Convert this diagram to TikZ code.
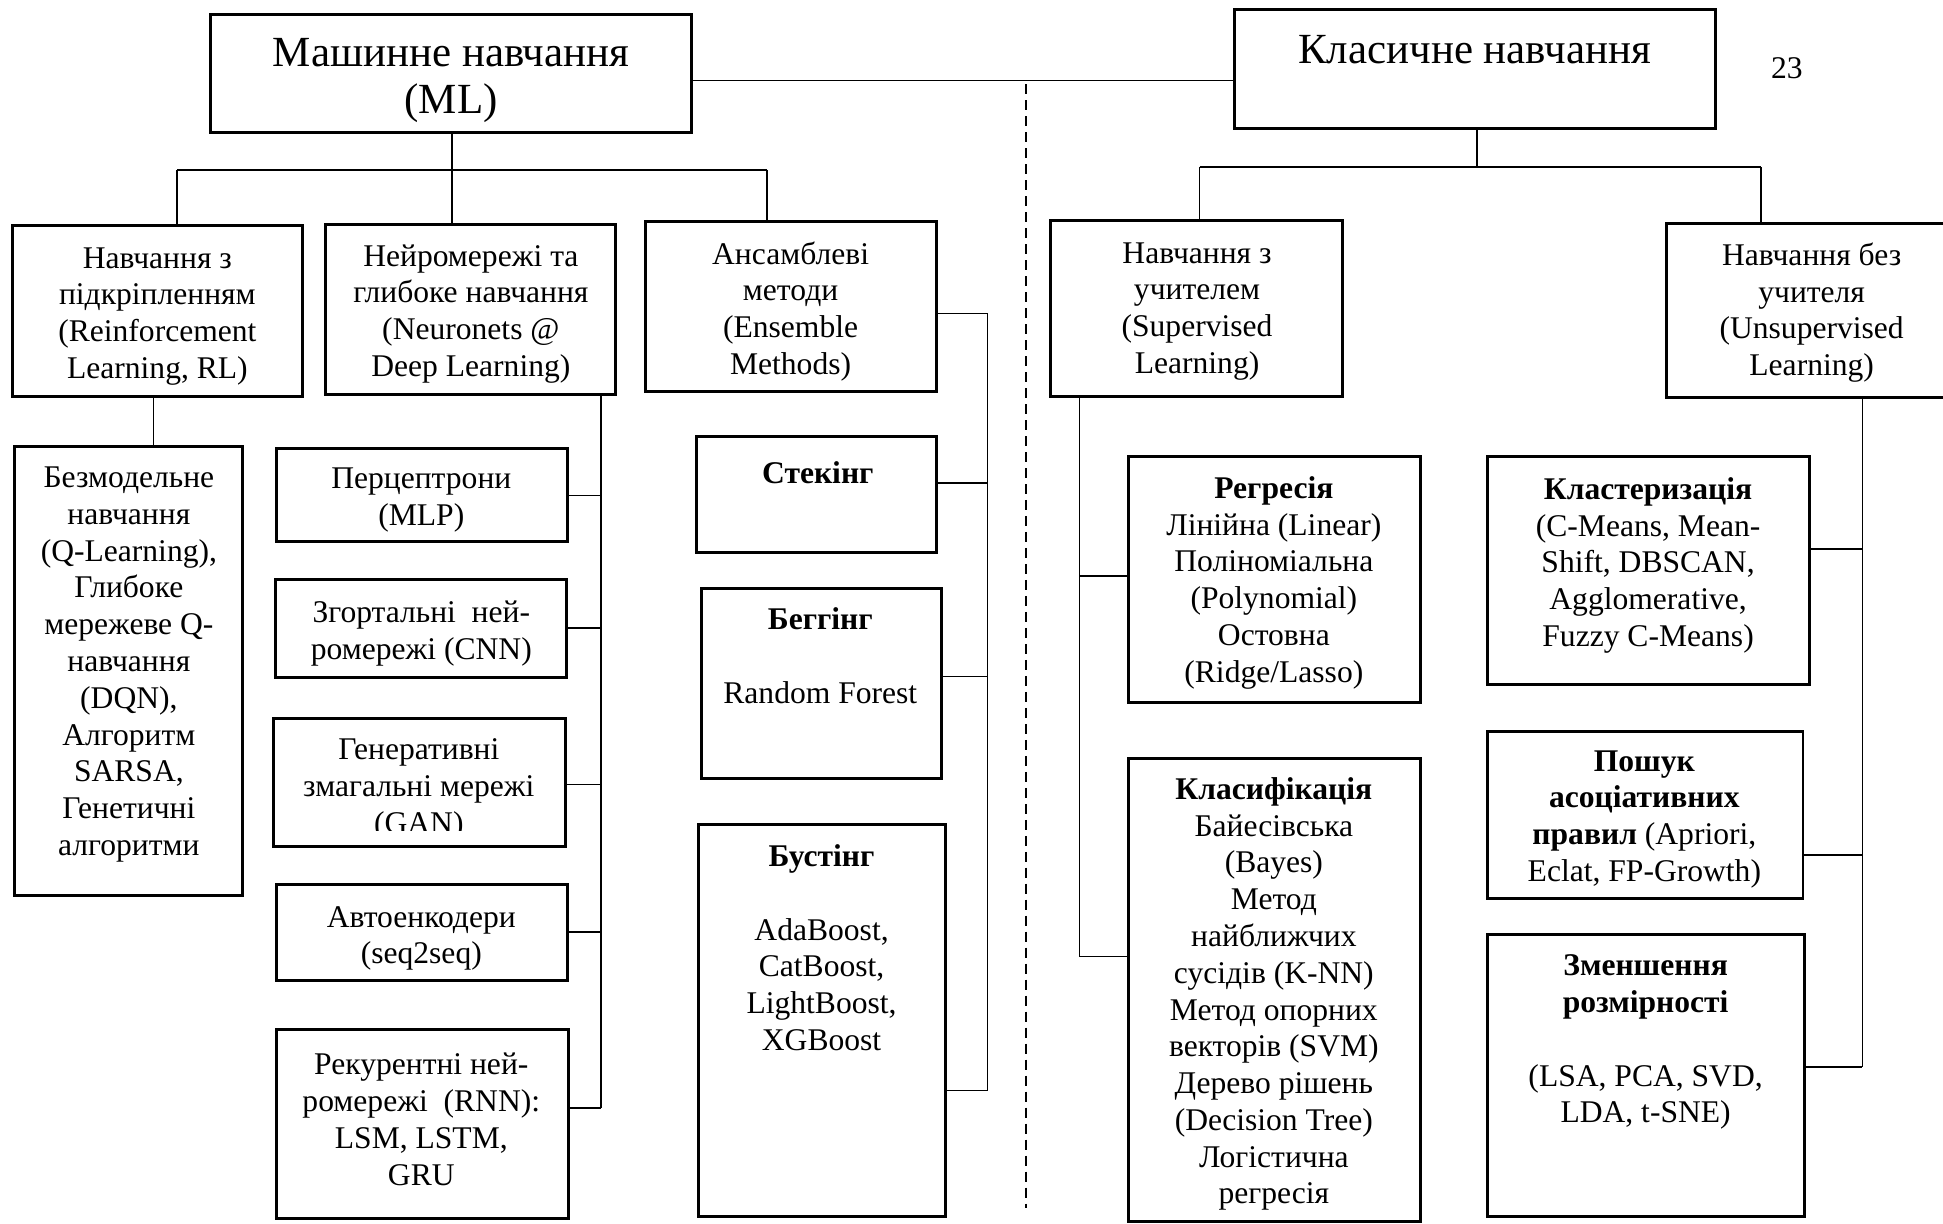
\documentclass[tikz,border=0pt]{standalone}
\usepackage{fontspec}
\setmainfont{Liberation Serif}
\usetikzlibrary{fit}
\tikzset{
  box/.style={draw,line width=1.5pt,inner sep=0pt},
  link/.style={line width=0.8pt},
  sep/.style={line width=0.7pt,dash pattern=on 5pt off 3pt},
  txt/.style={align=center,inner sep=0pt,yshift=-2pt,font=\fontsize{15.8}{18.4}\selectfont},
  ttl/.style={align=center,inner sep=0pt,font=\fontsize{21.5}{23.6}\selectfont}
}
\begin{document}
\begin{tikzpicture}[x=0.62pt,y=-0.62pt]
\useasboundingbox (0,0) rectangle (1568,987);
% top level
\node[box,fit={(170,12) (558,107)}] (ml) {};
\node[box,fit={(996,8) (1384,104)}] (cl) {};
\node[ttl] (mltxt) at (364,65) {Машинне навчання\\(ML)};
\node[ttl] (cltxt) at (1190,40) {Класичне навчання};
\node[txt] (page) at (1442,52) {23};
\draw[link] (ml.east |- 0,65) -- (cl.west |- 0,65);
\coordinate (dtop) at (828,68); \coordinate (dbot) at (828,975);
\draw[sep] (dtop) -- (dbot);
% ML branches
\node[box,fit={(10,182) (244,320)}] (rl) {};
\node[box,fit={(263,181) (497,318)}] (nn) {};
\node[box,fit={(521,179) (756,316)}] (en) {};
\node[txt] (rltxt) at (127,252) {Навчання з\\підкріпленням\\(Reinforcement\\Learning, RL)};
\node[txt] (nntxt) at (380,250) {Нейромережі та\\глибоке навчання\\(Neuronets @\\Deep Learning)};
\node[txt] (entxt) at (638,248) {Ансамблеві\\методи\\(Ensemble\\Methods)};
\coordinate (mlj) at (365,137); \coordinate (rlj) at (143,137); \coordinate (enj) at (619,137);
\draw[link] (ml.south -| mlj) -- (mlj);
\draw[link] (rlj) -- (enj);
\foreach \j/\b in {rlj/rl,mlj/nn,enj/en}{\draw[link] (\j) -- (\j |- \b.north);}
% reinforcement learning
\node[box,fit={(12,360) (196,723)}] (mf) {};
\node[txt] (mftxt) at (104,533) {Безмодельне\\навчання\\(Q-Learning),\\Глибоке\\мережеве Q-\\навчання\\(DQN),\\Алгоритм\\SARSA,\\Генетичні\\алгоритми};
\coordinate (rlq) at (124,340);
\draw[link] (rlq |- rl.south) -- (rlq |- mf.north);
% neural networks
\node[box,fit={(223,362) (458,437)}] (mlp) {};
\node[box,fit={(222,468) (457,547)}] (cnn) {};
\node[box,fit={(221,580) (456,683)}] (gan) {};
\node[box,fit={(223,714) (458,791)}] (ae) {};
\node[box,fit={(223,831) (459,983)}] (rnn) {};
\node[txt] (mlptxt) at (340,400) {Перцептрони\\(MLP)};
\node[txt] (cnntxt) at (340,508) {Згортальні\ \ ней-\\ромережі (CNN)};
\begin{scope}
\clip (222,582) rectangle (455,670);
\node[txt] (gantxt) at (338,634) {Генеративні\\змагальні мережі\\(GAN)};
\end{scope}
\node[txt] (aetxt) at (340,754) {Автоенкодери\\(seq2seq)};
\node[txt] (rnntxt) at (340,900) {Рекурентні ней-\\ромережі\ \ (RNN):\\LSM, LSTM,\\GRU};
\coordinate (nnb) at (485,894);
\draw[link] (nnb |- nn.south) -- (nnb);
\foreach \b/\y in {mlp/400,cnn/507,gan/633,ae/752,rnn/894}{\draw[link] (\b.east |- 0,\y) -- (nnb |- 0,\y);}
% ensembles
\node[box,fit={(562,352) (756,446)}] (stk) {};
\node[box,fit={(566,475) (760,628)}] (bag) {};
\node[box,fit={(564,665) (763,982)}] (bst) {};
\node[txt] (stktxt) at (660,378) {\textbf{Стекінг}};
\node[txt,anchor=north] (bagtxt) at (662,487) {\textbf{Беггінг}\\[\baselineskip]Random Forest};
\node[txt,anchor=north] (bsttxt) at (663,678) {\textbf{Бустінг}\\[\baselineskip]AdaBoost,\\CatBoost,\\LightBoost,\\XGBoost};
\coordinate (enb) at (797,880);
\draw[link] (en.east |- 0,253) -- (enb |- 0,253) -- (enb);
\foreach \b/\y in {stk/390,bag/546,bst/880}{\draw[link] (\b.east |- 0,\y) -- (enb |- 0,\y);}
% classic branches
\node[box,fit={(848,178) (1083,320)}] (sv) {};
\node[box,fit={(1345,180) (1600,321)}] (us) {};
\node[txt] (svtxt) at (966,248) {Навчання з\\учителем\\(Supervised\\Learning)};
\node[txt] (ustxt) at (1462,249) {Навчання без\\учителя\\(Unsupervised\\Learning)};
\coordinate (clj) at (1192,135); \coordinate (svj) at (968,135); \coordinate (usj) at (1421,135);
\draw[link] (cl.south -| clj) -- (clj);
\draw[link] (svj) -- (usj);
\foreach \j/\b in {svj/sv,usj/us}{\draw[link] (\j) -- (\j |- \b.north);}
% supervised
\node[box,fit={(911,368) (1146,567)}] (reg) {};
\node[box,fit={(911,612) (1146,986)}] (cls) {};
\node[txt] (regtxt) at (1028,467) {\textbf{Регресія}\\Лінійна (Linear)\\Поліноміальна\\(Polynomial)\\Остовна\\(Ridge/Lasso)};
\node[txt] (clstxt) at (1028,799) {\textbf{Класифікація}\\Байесівська\\(Bayes)\\Метод\\найближчих\\сусідів (K-NN)\\Метод опорних\\векторів (SVM)\\Дерево рішень\\(Decision Tree)\\Логістична\\регресія};
\coordinate (svb) at (871,772);
\draw[link] (svb |- sv.south) -- (svb);
\foreach \b/\y in {reg/465,cls/772}{\draw[link] (svb |- 0,\y) -- (\b.west |- 0,\y);}
% unsupervised
\node[box,fit={(1200,368) (1460,552)}] (clu) {};
\node[box,fit={(1200,590) (1455,725)}] (apr) {};
\node[box,fit={(1200,754) (1456,982)}] (dim) {};
\node[txt] (clutxt) at (1330,453) {\textbf{Кластеризація}\\(C-Means, Mean-\\Shift, DBSCAN,\\Agglomerative,\\Fuzzy C-Means)};
\node[txt] (aprtxt) at (1327,658) {\textbf{Пошук}\\\textbf{асоціативних}\\\textbf{правил} (Apriori,\\Eclat, FP-Growth)};
\node[txt,anchor=north] (dimtxt) at (1328,767) {\textbf{Зменшення}\\\textbf{розмірності}\\[\baselineskip](LSA, PCA, SVD,\\LDA, t-SNE)};
\coordinate (usb) at (1503,861);
\draw[link] (usb |- us.south) -- (usb);
\foreach \b/\y in {clu/443,apr/690,dim/861}{\draw[link] (\b.east |- 0,\y) -- (usb |- 0,\y);}
\end{tikzpicture}
\end{document}
